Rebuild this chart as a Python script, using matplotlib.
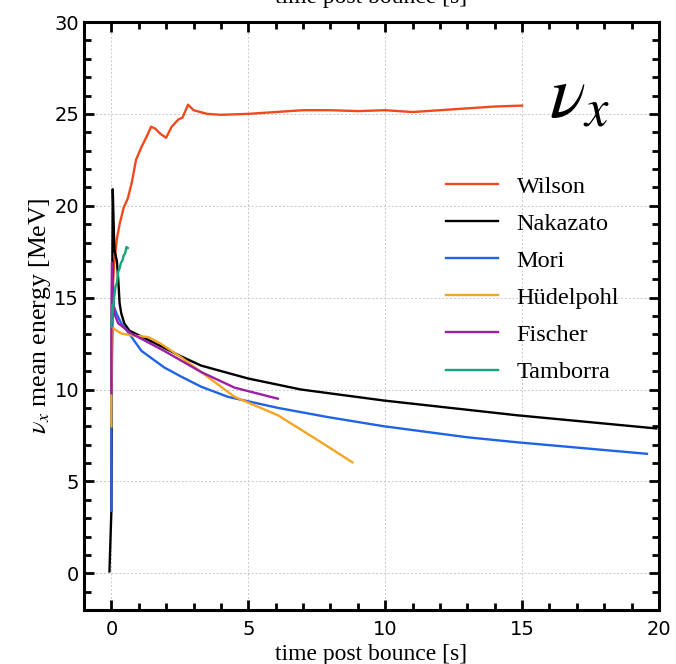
import matplotlib
matplotlib.use("Agg")
import matplotlib.pyplot as plt
from matplotlib.ticker import MultipleLocator

# ---- data ----
wilson_t = [0.05, 0.1, 0.2, 0.3, 0.45, 0.6, 0.75, 0.9, 1.1, 1.3, 1.45, 1.6, 1.8, 2.0, 2.2, 2.45,
            2.6, 2.8, 3.0, 3.5, 4.0, 5.0, 6.0, 7.0, 8.0, 9.0, 10.0, 11.0, 12.0, 13.0, 14.0, 15.0]
wilson_e = [15.5, 16.8, 18.2, 19.0, 19.9, 20.4, 21.3, 22.5, 23.2, 23.8, 24.3, 24.2, 23.9, 23.7, 24.3, 24.7,
            24.8, 25.5, 25.2, 25.0, 24.95, 25.0, 25.1, 25.2, 25.2, 25.15, 25.2, 25.1, 25.2, 25.3, 25.4, 25.45]

nakazato_t = [-0.07, -0.03, 0.0, 0.02, 0.05, 0.08, 0.11, 0.2, 0.25, 0.3, 0.36, 0.47, 0.66, 1.35,
              2.55, 3.28, 4.99, 6.92, 9.95, 14.8, 19.9]
nakazato_e = [0.1, 2.0, 3.4, 12.0, 20.9, 19.2, 17.6, 17.0, 16.0, 14.7, 14.15, 13.6, 13.2, 12.7,
              11.8, 11.3, 10.6, 10.0, 9.4, 8.6, 7.88]

mori_t = [0.0, 0.0, 0.02, 0.05, 0.18, 0.36, 0.62, 1.1, 1.93, 2.55, 3.28, 4.26, 6.08, 7.9, 9.95,
          13.0, 14.8, 19.56]
mori_e = [3.4, 8.0, 12.0, 14.7, 14.15, 13.6, 13.1, 12.1, 11.2, 10.7, 10.15, 9.6, 9.0, 8.5, 8.0,
          7.4, 7.13, 6.5]

huedel_t = [0.0, 0.0, 0.02, 0.1, 0.36, 0.73, 1.35, 1.8, 2.55, 3.28, 4.5, 6.08, 7.54, 8.8]
huedel_e = [8.0, 9.8, 13.4, 13.3, 13.05, 12.95, 12.85, 12.5, 11.75, 10.95, 9.6, 8.6, 7.24, 6.04]

fischer_t = [0.0, 0.0, 0.02, 0.1, 0.25, 0.73, 1.93, 3.28, 4.5, 6.08]
fischer_e = [9.8, 14.0, 16.9, 14.15, 13.6, 13.05, 12.1, 10.95, 10.1, 9.5]

tamborra_t = [0.0, 0.03, 0.05, 0.1, 0.15, 0.2, 0.25, 0.3, 0.35, 0.4, 0.45, 0.5, 0.55, 0.6]
tamborra_e = [13.4, 14.6, 14.2, 15.0, 15.6, 15.8, 16.4, 16.6, 16.9, 17.0, 17.3, 17.4, 17.75, 17.7]

series = [
    ("Wilson", wilson_t, wilson_e, "#f04a1c"),
    ("Nakazato", nakazato_t, nakazato_e, "#000000"),
    ("Mori", mori_t, mori_e, "#1f63e6"),
    ("Hüdelpohl", huedel_t, huedel_e, "#f5a524"),
    ("Fischer", fischer_t, fischer_e, "#9c1ea6"),
    ("Tamborra", tamborra_t, tamborra_e, "#16a67b"),
]

serif = ["Liberation Serif", "DejaVu Serif"]
plt.rcParams["mathtext.fontset"] = "stix"

fig = plt.figure(figsize=(6.76, 6.64), dpi=100)
ax = fig.add_axes([84 / 676, 54 / 664, (659 - 84) / 676, (610 - 22) / 664])

for name, t, e, c in series:
    ax.plot(t, e, color=c, lw=1.7, label=name)

ax.set_xlim(-1, 20)
ax.set_ylim(-2, 30)
ax.xaxis.set_major_locator(MultipleLocator(5))
ax.xaxis.set_minor_locator(MultipleLocator(1))
ax.yaxis.set_major_locator(MultipleLocator(5))
ax.yaxis.set_minor_locator(MultipleLocator(1))
ax.tick_params(which="both", direction="in", top=True, right=True, width=2, labelsize=14)
ax.tick_params(which="major", length=7.5)
ax.tick_params(which="minor", length=5)
ax.tick_params(axis="x", pad=7)
for s in ax.spines.values():
    s.set_linewidth(2.2)
ax.grid(True, which="major", color="#c8c8c8", ls=(0, (2, 2)), lw=0.7)

ax.set_xlabel("time post bounce [s]", fontsize=17, family=serif, labelpad=4)
ax.set_ylabel(r"$\nu_x$ mean energy [MeV]", fontsize=18.5, family=serif, labelpad=1)

# duplicate axis title that the reference shows cut off at its very top edge
fig.text(371 / 676, 1 - 3 / 664, "time post bounce [s]", fontsize=17, family=serif,
         ha="center", va="baseline")

ax.text(17.1, 25.9, r"$\nu_x$", fontsize=54, ha="center", va="center")

leg = ax.legend(loc="upper left", bbox_to_anchor=(0.591, 0.776), frameon=False,
                prop={"family": serif, "size": 17.5}, handlelength=2.14,
                handletextpad=0.78, labelspacing=0.62)

fig.savefig("out.png", dpi=100)
